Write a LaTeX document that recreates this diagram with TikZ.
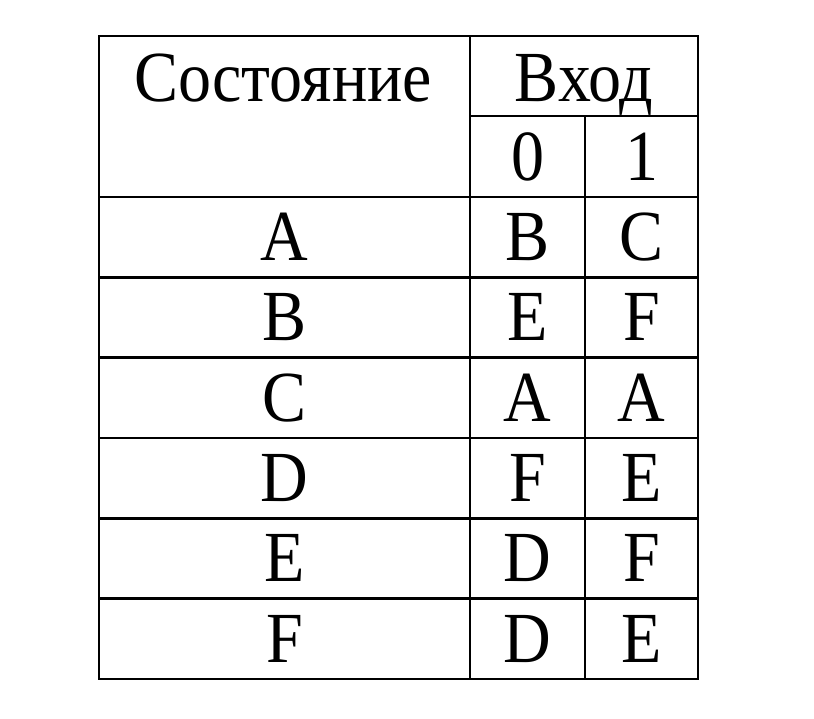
\documentclass[tikz,border=0pt]{standalone}
\usepackage{fontspec}
\usepackage{graphicx}
\setmainfont{Liberation Serif}
\newcommand{\tallt}[1]{\scalebox{1}[1.09]{#1}}
\begin{document}
\begin{tikzpicture}[x=1pt,y=-1pt,
  gridline/.style={line width=2.6pt,black,line cap=rect},
  cell/.style={anchor=base,inner sep=0pt,font=\fontsize{66}{80}\selectfont}]
\useasboundingbox (0,0) rectangle (814,718);
% outer frame
\draw[gridline] (99,36) rectangle (698,679);
% column separators
\draw[gridline] (470,36) -- (470,679);
\draw[gridline] (585,116) -- (585,679);
% header divider
\draw[gridline] (470,116) -- (698,116);
% row lines
\foreach \y in {197,277.3,357.7,438,518.3,598.7}
  \draw[gridline] (99,\y) -- (698,\y);
% header text
\node[cell] (hs) at (283,101) {\tallt{Состояние}};
\node[cell] (hv) at (584,101) {\tallt{Вход}};
\node[cell] (h0) at (527.5,180) {\tallt{0}};
\node[cell] (h1) at (641.5,180) {\tallt{1}};
% body
\foreach \s/\a/\b [count=\i from 0] in {A/B/C,B/E/F,C/A/A,D/F/E,E/D/F,F/D/E}{
  \pgfmathsetmacro{\yb}{197+80.33*\i+63.5}
  \node[cell] (s\i) at (284.5,\yb) {\tallt{\s}};
  \node[cell] (z\i) at (527.5,\yb) {\tallt{\a}};
  \node[cell] (o\i) at (641.5,\yb) {\tallt{\b}};
}
\end{tikzpicture}
\end{document}
